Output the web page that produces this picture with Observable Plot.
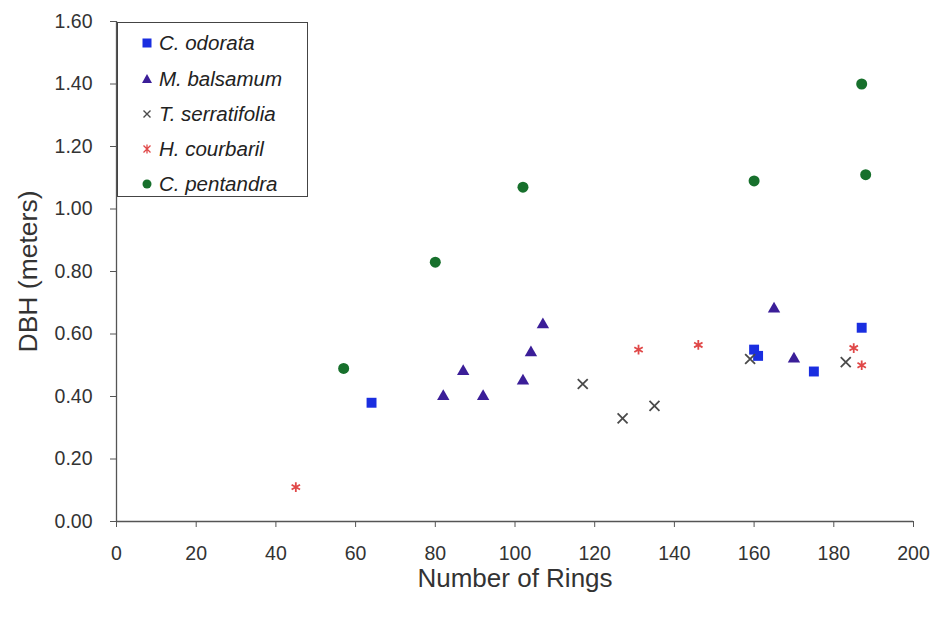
<!DOCTYPE html>
<html>
<head>
<meta charset="utf-8">
<script src="https://cdn.jsdelivr.net/npm/d3@7"></script>
<script src="https://cdn.jsdelivr.net/npm/@observablehq/plot@0.6"></script>
<style>
  html, body { margin: 0; padding: 0; background: #fff; }
  #wrap { position: relative; width: 934px; height: 618px; font-family: "Liberation Sans", Arial, sans-serif; }
  #legend { position: absolute; left: 117px; top: 22px; width: 191px; height: 175px; box-sizing: border-box;
            border: 1.5px solid #444; background: #fff; }
  .item { position: absolute; left: 22px; height: 24px; display: flex; align-items: center;
          font-style: italic; font-size: 20.5px; color: #222; }
  .item svg { margin-right: 5px; }
</style>
</head>
<body>
<div id="wrap"></div>
<script>
// ---- data ----
const species = ["C. odorata", "M. balsamum", "T. serratifolia", "H. courbaril", "C. pentandra"];

const odorataRings = [64, 160, 161, 175, 187];
const odorataDBH   = [0.38, 0.55, 0.53, 0.48, 0.62];

const balsamumRings = [82, 87, 92, 102, 104, 107, 165, 170];
const balsamumDBH   = [0.40, 0.48, 0.40, 0.45, 0.54, 0.63, 0.68, 0.52];

const serratifoliaRings = [117, 127, 135, 159, 183];
const serratifoliaDBH   = [0.44, 0.33, 0.37, 0.52, 0.51];

const courbarilRings = [45, 131, 146, 185, 187];
const courbarilDBH   = [0.11, 0.55, 0.565, 0.555, 0.50];

const pentandraRings = [57, 80, 102, 160, 187, 188];
const pentandraDBH   = [0.49, 0.83, 1.07, 1.09, 1.40, 1.11];

const xTicks = [0, 20, 40, 60, 80, 100, 120, 140, 160, 180, 200];
const yTicks = [0, 0.2, 0.4, 0.6, 0.8, 1.0, 1.2, 1.4, 1.6];

// ---- styles ----
const styleOf = {
  "C. odorata":      {symbol: "square",   fill: "#1a2ee0", stroke: "none", r: 5.6},
  "M. balsamum":     {symbol: "triangle", fill: "#3b1e98", stroke: "none", r: 4.6},
  "T. serratifolia": {symbol: "times",    fill: "none", stroke: "#4a4a4a", r: 4.6},
  "H. courbaril":    {symbol: "asterisk", fill: "none", stroke: "#e04848", r: 4.6},
  "C. pentandra":    {symbol: "circle",   fill: "#17702c", stroke: "none", r: 5.5}
};

const series = [
  [species[0], odorataRings, odorataDBH],
  [species[1], balsamumRings, balsamumDBH],
  [species[2], serratifoliaRings, serratifoliaDBH],
  [species[3], courbarilRings, courbarilDBH],
  [species[4], pentandraRings, pentandraDBH]
];

const dotMarks = series.map(([name, xs, ys]) => {
  const s = styleOf[name];
  const data = xs.map((x, i) => ({rings: x, dbh: ys[i], species: name}));
  return Plot.dot(data, {
    x: "rings", y: "dbh", symbol: () => s.symbol, r: s.r,
    fill: s.fill, stroke: s.stroke, strokeWidth: s.stroke === "none" ? 0 : 1.8
  });
});

const chart = Plot.plot({
  width: 934, height: 618,
  marginLeft: 116, marginRight: 21, marginTop: 21, marginBottom: 97,
  style: {fontFamily: "Liberation Sans, Arial, sans-serif", fontSize: "19.5px", color: "#333", background: "#fff"},
  x: {domain: [0, 200]},
  y: {domain: [0, 1.6]},
  symbol: {type: "identity"},
  marks: [
    Plot.axisX(xTicks, {tickSize: 6, tickPadding: 19, stroke: "#555", fill: "#333", label: null}),
    Plot.axisY(yTicks, {tickSize: 6, tickPadding: 18, tickFormat: d3.format(".2f"), stroke: "#555", fill: "#333", label: null}),
    Plot.ruleX([0], {stroke: "#555", strokeWidth: 1.3}),
    Plot.ruleY([0], {stroke: "#555", strokeWidth: 1.3}),
    ...dotMarks,
    Plot.text(["DBH (meters)"], {frameAnchor: "left", textAnchor: "middle", lineAnchor: "middle", dx: -88, rotate: -90, fontSize: 26.5, fill: "#333"}),
    Plot.text(["Number of Rings"], {frameAnchor: "bottom", textAnchor: "middle", lineAnchor: "middle", dy: 57, fontSize: 26, fill: "#333"})
  ]
});

const wrap = document.getElementById("wrap");
wrap.appendChild(chart);

// ---- legend overlay ----
const legend = document.createElement("div");
legend.id = "legend";
const symPaths = {
  square: '<rect x="2.5" y="2.5" width="9" height="9"/>',
  triangle: '<polygon points="7,2 12,11 2,11"/>',
  times: '<path d="M3.5,3.5L10.5,10.5M10.5,3.5L3.5,10.5" stroke-width="1.4"/>',
  asterisk: '<path d="M3.5,3.5L10.5,10.5M10.5,3.5L3.5,10.5M7,2.5L7,11.5" stroke-width="1.3"/>',
  circle: '<circle cx="7" cy="7" r="4.5"/>'
};
const rowsY = [8, 44, 79, 114, 149];
species.forEach((name, i) => {
  const s = styleOf[name];
  const it = document.createElement("div");
  it.className = "item";
  it.style.top = rowsY[i] + "px";
  it.innerHTML = `<svg width="14" height="14" style="fill:${s.fill};stroke:${s.stroke}">${symPaths[s.symbol]}</svg><span>${name}</span>`;
  legend.appendChild(it);
});
wrap.appendChild(legend);
</script>
</body>
</html>
